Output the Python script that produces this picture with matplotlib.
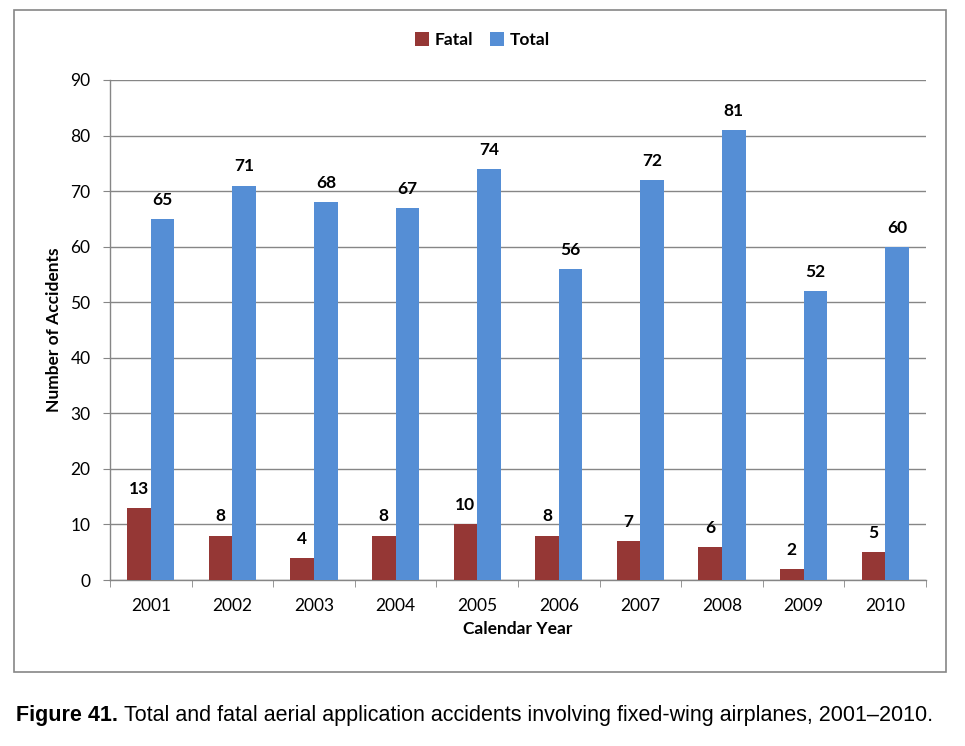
import numpy as np
import matplotlib
matplotlib.use("Agg")
from matplotlib import pyplot as plt
from matplotlib.patches import Rectangle

years = ['2001', '2002', '2003', '2004', '2005', '2006', '2007', '2008', '2009', '2010']
fatal = [13, 8, 4, 8, 10, 8, 7, 6, 2, 5]
total = [65, 71, 68, 67, 74, 56, 72, 81, 52, 60]

fatal_col = '#953735'
total_col = '#558ED5'
grey = '#868686'

plt.rcParams['font.family'] = ['Lato', 'DejaVu Sans']

fig = plt.figure(figsize=(9.65, 7.46), dpi=100)
ax = fig.add_axes([0.114, 0.2225, 0.8456, 0.6703])

# outer frame around the chart
fig.patches.append(Rectangle((14 / 965, 1 - 672 / 746), 932 / 965, 662 / 746,
                             transform=fig.transFigure, fill=False,
                             edgecolor=grey, linewidth=1.2))

x = np.arange(len(years))
w = 0.29
b1 = ax.bar(x - w / 2, fatal, w, color=fatal_col, label='Fatal', zorder=3)
b2 = ax.bar(x + w / 2, total, w, color=total_col, label='Total', zorder=3)

for bars in (b1, b2):
    for r in bars:
        ax.text(r.get_x() + r.get_width() / 2, r.get_height() + 2.0, str(int(r.get_height())),
                ha='center', va='bottom', fontsize=12.5, fontweight='bold')

ax.set_xlim(-0.5, len(years) - 0.5)
ax.set_ylim(0, 90)
ax.set_yticks(range(0, 91, 10))
ax.yaxis.grid(True, color=grey, linewidth=1, zorder=0)
ax.set_axisbelow(True)

ax.set_xticks(x)
ax.set_xticklabels(years, fontsize=12.5)
ax.set_xticks(np.arange(-0.5, len(years)), minor=True)
ax.tick_params(axis='x', which='major', length=0, pad=13)
ax.tick_params(axis='x', which='minor', length=5, color=grey, direction='out')
ax.tick_params(axis='y', labelsize=12.5, length=5, color=grey, pad=9)

for s in ('top', 'right'):
    ax.spines[s].set_visible(False)
for s in ('left', 'bottom'):
    ax.spines[s].set_color(grey)
    ax.spines[s].set_linewidth(1)

ax.set_ylabel('Number of Accidents', fontsize=12.5, fontweight='bold', labelpad=6)
ax.set_xlabel('Calendar Year', fontsize=12.5, fontweight='bold', labelpad=5)

fig.legend(loc='center', bbox_to_anchor=(0.5, 1 - 40 / 746), ncol=2, frameon=False,
           prop={'size': 12.5, 'weight': 'bold'}, handlelength=0.8, handleheight=0.8,
           handletextpad=0.3, columnspacing=1.0)

# caption: bold figure number followed by plain text
cap_y = 1 - 716 / 746
t1 = fig.text(16 / 965, cap_y, 'Figure 41.', fontsize=15.5, fontweight='bold',
              family='Liberation Sans', va='center')
fig.canvas.draw()
bb = t1.get_window_extent()
fig.text(bb.x1 / 965 + 6 / 965, cap_y,
         'Total and fatal aerial application accidents involving fixed-wing airplanes, 2001\u20132010.',
         fontsize=15.5, family='Liberation Sans', va='center')

fig.savefig('out.png', dpi=100)
